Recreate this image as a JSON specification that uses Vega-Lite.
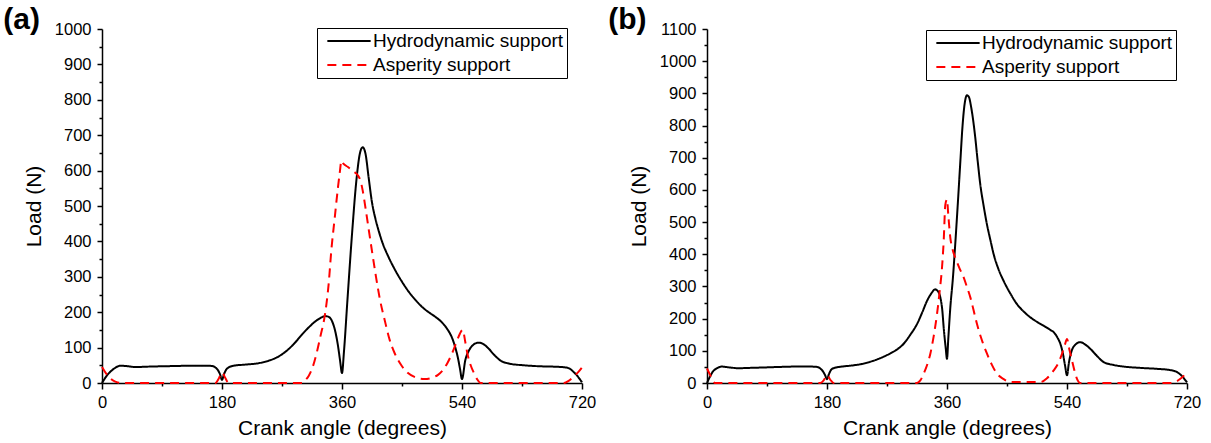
{
  "$schema": "https://vega.github.io/schema/vega-lite/v6.json",
  "autosize": {"type": "pad"},
  "padding": {"left": 3, "top": 5, "right": 5, "bottom": 0},
  "background": "white",
  "config": {
    "font": "Liberation Sans",
    "view": {"stroke": null},
    "axis": {
      "domainColor": "black", "domainWidth": 1.5, "tickColor": "black", "tickWidth": 1.5,
      "labelColor": "black", "titleColor": "black", "labelFont": "Liberation Sans", "titleFont": "Liberation Sans",
      "labelFontSize": 16.5, "titleFontSize": 21, "titleFontWeight": "normal", "grid": false,
      "labelOverlap": false, "labelFlush": false
    },
    "legend": {
      "labelFont": "Liberation Sans", "labelFontSize": 19, "labelColor": "black",
      "strokeColor": "black", "padding": 3, "rowPadding": 4, "symbolStrokeWidth": 2,
      "symbolSize": 300, "symbolType": "M-2.5,0H2.5", "labelOffset": 14, "symbolOffset": 19, "labelLimit": 400
    },
    "title": {"font": "Liberation Sans", "color": "black"}
  },
  "datasets": {
    "a": [
      {"angle": 0, "load": 0, "series": "Hydrodynamic support"},
      {"angle": 5, "load": 15, "series": "Hydrodynamic support"},
      {"angle": 10, "load": 27, "series": "Hydrodynamic support"},
      {"angle": 15, "load": 36, "series": "Hydrodynamic support"},
      {"angle": 20, "load": 43, "series": "Hydrodynamic support"},
      {"angle": 28, "load": 49, "series": "Hydrodynamic support"},
      {"angle": 40, "load": 47, "series": "Hydrodynamic support"},
      {"angle": 50, "load": 45, "series": "Hydrodynamic support"},
      {"angle": 65, "load": 46, "series": "Hydrodynamic support"},
      {"angle": 85, "load": 47, "series": "Hydrodynamic support"},
      {"angle": 110, "load": 48, "series": "Hydrodynamic support"},
      {"angle": 135, "load": 49, "series": "Hydrodynamic support"},
      {"angle": 155, "load": 49, "series": "Hydrodynamic support"},
      {"angle": 165, "load": 48, "series": "Hydrodynamic support"},
      {"angle": 170, "load": 44, "series": "Hydrodynamic support"},
      {"angle": 174, "load": 36, "series": "Hydrodynamic support"},
      {"angle": 177, "load": 25, "series": "Hydrodynamic support"},
      {"angle": 180, "load": 9, "series": "Hydrodynamic support"},
      {"angle": 183, "load": 25, "series": "Hydrodynamic support"},
      {"angle": 186, "load": 37, "series": "Hydrodynamic support"},
      {"angle": 190, "load": 44, "series": "Hydrodynamic support"},
      {"angle": 198, "load": 49, "series": "Hydrodynamic support"},
      {"angle": 215, "load": 52, "series": "Hydrodynamic support"},
      {"angle": 235, "load": 56, "series": "Hydrodynamic support"},
      {"angle": 250, "load": 63, "series": "Hydrodynamic support"},
      {"angle": 262, "load": 72, "series": "Hydrodynamic support"},
      {"angle": 270, "load": 81, "series": "Hydrodynamic support"},
      {"angle": 280, "load": 96, "series": "Hydrodynamic support"},
      {"angle": 290, "load": 115, "series": "Hydrodynamic support"},
      {"angle": 300, "load": 137, "series": "Hydrodynamic support"},
      {"angle": 310, "load": 157, "series": "Hydrodynamic support"},
      {"angle": 320, "load": 174, "series": "Hydrodynamic support"},
      {"angle": 328, "load": 184, "series": "Hydrodynamic support"},
      {"angle": 335, "load": 189, "series": "Hydrodynamic support"},
      {"angle": 340, "load": 187, "series": "Hydrodynamic support"},
      {"angle": 345, "load": 175, "series": "Hydrodynamic support"},
      {"angle": 350, "load": 145, "series": "Hydrodynamic support"},
      {"angle": 354, "load": 105, "series": "Hydrodynamic support"},
      {"angle": 357, "load": 65, "series": "Hydrodynamic support"},
      {"angle": 360, "load": 28, "series": "Hydrodynamic support"},
      {"angle": 363, "load": 90, "series": "Hydrodynamic support"},
      {"angle": 368, "load": 230, "series": "Hydrodynamic support"},
      {"angle": 375, "load": 420, "series": "Hydrodynamic support"},
      {"angle": 382, "load": 580, "series": "Hydrodynamic support"},
      {"angle": 387, "load": 650, "series": "Hydrodynamic support"},
      {"angle": 391, "load": 666, "series": "Hydrodynamic support"},
      {"angle": 395, "load": 650, "series": "Hydrodynamic support"},
      {"angle": 400, "load": 580, "series": "Hydrodynamic support"},
      {"angle": 405, "load": 510, "series": "Hydrodynamic support"},
      {"angle": 410, "load": 465, "series": "Hydrodynamic support"},
      {"angle": 415, "load": 430, "series": "Hydrodynamic support"},
      {"angle": 420, "load": 400, "series": "Hydrodynamic support"},
      {"angle": 430, "load": 355, "series": "Hydrodynamic support"},
      {"angle": 440, "load": 318, "series": "Hydrodynamic support"},
      {"angle": 450, "load": 286, "series": "Hydrodynamic support"},
      {"angle": 460, "load": 258, "series": "Hydrodynamic support"},
      {"angle": 470, "load": 235, "series": "Hydrodynamic support"},
      {"angle": 480, "load": 215, "series": "Hydrodynamic support"},
      {"angle": 490, "load": 200, "series": "Hydrodynamic support"},
      {"angle": 500, "load": 187, "series": "Hydrodynamic support"},
      {"angle": 510, "load": 171, "series": "Hydrodynamic support"},
      {"angle": 518, "load": 152, "series": "Hydrodynamic support"},
      {"angle": 525, "load": 128, "series": "Hydrodynamic support"},
      {"angle": 530, "load": 100, "series": "Hydrodynamic support"},
      {"angle": 534, "load": 70, "series": "Hydrodynamic support"},
      {"angle": 537, "load": 40, "series": "Hydrodynamic support"},
      {"angle": 540, "load": 11, "series": "Hydrodynamic support"},
      {"angle": 545, "load": 65, "series": "Hydrodynamic support"},
      {"angle": 550, "load": 90, "series": "Hydrodynamic support"},
      {"angle": 557, "load": 108, "series": "Hydrodynamic support"},
      {"angle": 565, "load": 114, "series": "Hydrodynamic support"},
      {"angle": 572, "load": 110, "series": "Hydrodynamic support"},
      {"angle": 580, "load": 97, "series": "Hydrodynamic support"},
      {"angle": 588, "load": 80, "series": "Hydrodynamic support"},
      {"angle": 598, "load": 63, "series": "Hydrodynamic support"},
      {"angle": 610, "load": 55, "series": "Hydrodynamic support"},
      {"angle": 633, "load": 50, "series": "Hydrodynamic support"},
      {"angle": 660, "load": 47, "series": "Hydrodynamic support"},
      {"angle": 680, "load": 46, "series": "Hydrodynamic support"},
      {"angle": 695, "load": 44, "series": "Hydrodynamic support"},
      {"angle": 702, "load": 40, "series": "Hydrodynamic support"},
      {"angle": 708, "load": 30, "series": "Hydrodynamic support"},
      {"angle": 713, "load": 20, "series": "Hydrodynamic support"},
      {"angle": 717, "load": 10, "series": "Hydrodynamic support"},
      {"angle": 720, "load": 2, "series": "Hydrodynamic support"},
      {"angle": 0, "load": 45, "series": "Asperity support"},
      {"angle": 5, "load": 30, "series": "Asperity support"},
      {"angle": 10, "load": 18, "series": "Asperity support"},
      {"angle": 15, "load": 9, "series": "Asperity support"},
      {"angle": 20, "load": 4, "series": "Asperity support"},
      {"angle": 28, "load": 0, "series": "Asperity support"},
      {"angle": 100, "load": 0, "series": "Asperity support"},
      {"angle": 170, "load": 0, "series": "Asperity support"},
      {"angle": 175, "load": 12, "series": "Asperity support"},
      {"angle": 180, "load": 30, "series": "Asperity support"},
      {"angle": 185, "load": 14, "series": "Asperity support"},
      {"angle": 190, "load": 0, "series": "Asperity support"},
      {"angle": 300, "load": 0, "series": "Asperity support"},
      {"angle": 305, "load": 8, "series": "Asperity support"},
      {"angle": 310, "load": 20, "series": "Asperity support"},
      {"angle": 316, "load": 45, "series": "Asperity support"},
      {"angle": 322, "load": 85, "series": "Asperity support"},
      {"angle": 328, "load": 135, "series": "Asperity support"},
      {"angle": 334, "load": 188, "series": "Asperity support"},
      {"angle": 340, "load": 280, "series": "Asperity support"},
      {"angle": 344, "load": 375, "series": "Asperity support"},
      {"angle": 349, "load": 465, "series": "Asperity support"},
      {"angle": 354, "load": 553, "series": "Asperity support"},
      {"angle": 357, "load": 600, "series": "Asperity support"},
      {"angle": 359, "load": 628, "series": "Asperity support"},
      {"angle": 362, "load": 620, "series": "Asperity support"},
      {"angle": 369, "load": 610, "series": "Asperity support"},
      {"angle": 377, "load": 598, "series": "Asperity support"},
      {"angle": 384, "load": 586, "series": "Asperity support"},
      {"angle": 388, "load": 570, "series": "Asperity support"},
      {"angle": 391, "load": 544, "series": "Asperity support"},
      {"angle": 396, "load": 485, "series": "Asperity support"},
      {"angle": 401, "load": 422, "series": "Asperity support"},
      {"angle": 406, "load": 360, "series": "Asperity support"},
      {"angle": 411, "load": 300, "series": "Asperity support"},
      {"angle": 417, "load": 235, "series": "Asperity support"},
      {"angle": 424, "load": 178, "series": "Asperity support"},
      {"angle": 431, "load": 125, "series": "Asperity support"},
      {"angle": 439, "load": 84, "series": "Asperity support"},
      {"angle": 449, "load": 50, "series": "Asperity support"},
      {"angle": 459, "load": 28, "series": "Asperity support"},
      {"angle": 470, "load": 16, "series": "Asperity support"},
      {"angle": 484, "load": 11, "series": "Asperity support"},
      {"angle": 495, "load": 15, "series": "Asperity support"},
      {"angle": 504, "load": 23, "series": "Asperity support"},
      {"angle": 512, "load": 38, "series": "Asperity support"},
      {"angle": 518, "load": 56, "series": "Asperity support"},
      {"angle": 526, "load": 88, "series": "Asperity support"},
      {"angle": 533, "load": 122, "series": "Asperity support"},
      {"angle": 537, "load": 140, "series": "Asperity support"},
      {"angle": 541, "load": 150, "series": "Asperity support"},
      {"angle": 545, "load": 115, "series": "Asperity support"},
      {"angle": 548, "load": 84, "series": "Asperity support"},
      {"angle": 553, "load": 50, "series": "Asperity support"},
      {"angle": 558, "load": 28, "series": "Asperity support"},
      {"angle": 563, "load": 10, "series": "Asperity support"},
      {"angle": 568, "load": 0, "series": "Asperity support"},
      {"angle": 693, "load": 0, "series": "Asperity support"},
      {"angle": 700, "load": 6, "series": "Asperity support"},
      {"angle": 708, "load": 19, "series": "Asperity support"},
      {"angle": 714, "load": 30, "series": "Asperity support"},
      {"angle": 720, "load": 44, "series": "Asperity support"}
    ],
    "b": [
      {"angle": 0, "load": 0, "series": "Hydrodynamic support"},
      {"angle": 4, "load": 18, "series": "Hydrodynamic support"},
      {"angle": 9, "load": 36, "series": "Hydrodynamic support"},
      {"angle": 15, "load": 46, "series": "Hydrodynamic support"},
      {"angle": 22, "load": 51, "series": "Hydrodynamic support"},
      {"angle": 35, "load": 48, "series": "Hydrodynamic support"},
      {"angle": 47, "load": 46, "series": "Hydrodynamic support"},
      {"angle": 65, "load": 47, "series": "Hydrodynamic support"},
      {"angle": 82, "load": 48, "series": "Hydrodynamic support"},
      {"angle": 110, "load": 50, "series": "Hydrodynamic support"},
      {"angle": 132, "load": 51, "series": "Hydrodynamic support"},
      {"angle": 155, "load": 51, "series": "Hydrodynamic support"},
      {"angle": 165, "load": 50, "series": "Hydrodynamic support"},
      {"angle": 170, "load": 45, "series": "Hydrodynamic support"},
      {"angle": 174, "load": 36, "series": "Hydrodynamic support"},
      {"angle": 177, "load": 25, "series": "Hydrodynamic support"},
      {"angle": 180, "load": 12, "series": "Hydrodynamic support"},
      {"angle": 183, "load": 28, "series": "Hydrodynamic support"},
      {"angle": 187, "load": 43, "series": "Hydrodynamic support"},
      {"angle": 193, "load": 48, "series": "Hydrodynamic support"},
      {"angle": 202, "load": 51, "series": "Hydrodynamic support"},
      {"angle": 220, "load": 55, "series": "Hydrodynamic support"},
      {"angle": 232, "load": 59, "series": "Hydrodynamic support"},
      {"angle": 245, "load": 66, "series": "Hydrodynamic support"},
      {"angle": 262, "load": 79, "series": "Hydrodynamic support"},
      {"angle": 275, "load": 92, "series": "Hydrodynamic support"},
      {"angle": 285, "load": 104, "series": "Hydrodynamic support"},
      {"angle": 295, "load": 122, "series": "Hydrodynamic support"},
      {"angle": 305, "load": 150, "series": "Hydrodynamic support"},
      {"angle": 315, "load": 183, "series": "Hydrodynamic support"},
      {"angle": 323, "load": 220, "series": "Hydrodynamic support"},
      {"angle": 330, "load": 255, "series": "Hydrodynamic support"},
      {"angle": 337, "load": 280, "series": "Hydrodynamic support"},
      {"angle": 342, "load": 291, "series": "Hydrodynamic support"},
      {"angle": 346, "load": 286, "series": "Hydrodynamic support"},
      {"angle": 350, "load": 266, "series": "Hydrodynamic support"},
      {"angle": 353, "load": 225, "series": "Hydrodynamic support"},
      {"angle": 355, "load": 173, "series": "Hydrodynamic support"},
      {"angle": 358, "load": 110, "series": "Hydrodynamic support"},
      {"angle": 360, "load": 75, "series": "Hydrodynamic support"},
      {"angle": 362, "load": 140, "series": "Hydrodynamic support"},
      {"angle": 365, "load": 235, "series": "Hydrodynamic support"},
      {"angle": 369, "load": 330, "series": "Hydrodynamic support"},
      {"angle": 372, "load": 420, "series": "Hydrodynamic support"},
      {"angle": 376, "load": 550, "series": "Hydrodynamic support"},
      {"angle": 380, "load": 688, "series": "Hydrodynamic support"},
      {"angle": 383, "load": 790, "series": "Hydrodynamic support"},
      {"angle": 386, "load": 860, "series": "Hydrodynamic support"},
      {"angle": 390, "load": 894, "series": "Hydrodynamic support"},
      {"angle": 393, "load": 888, "series": "Hydrodynamic support"},
      {"angle": 396, "load": 860, "series": "Hydrodynamic support"},
      {"angle": 399, "load": 820, "series": "Hydrodynamic support"},
      {"angle": 402, "load": 770, "series": "Hydrodynamic support"},
      {"angle": 406, "load": 690, "series": "Hydrodynamic support"},
      {"angle": 410, "load": 616, "series": "Hydrodynamic support"},
      {"angle": 415, "load": 550, "series": "Hydrodynamic support"},
      {"angle": 420, "load": 492, "series": "Hydrodynamic support"},
      {"angle": 425, "load": 445, "series": "Hydrodynamic support"},
      {"angle": 430, "load": 400, "series": "Hydrodynamic support"},
      {"angle": 437, "load": 355, "series": "Hydrodynamic support"},
      {"angle": 445, "load": 317, "series": "Hydrodynamic support"},
      {"angle": 455, "load": 278, "series": "Hydrodynamic support"},
      {"angle": 465, "load": 245, "series": "Hydrodynamic support"},
      {"angle": 475, "load": 222, "series": "Hydrodynamic support"},
      {"angle": 485, "load": 204, "series": "Hydrodynamic support"},
      {"angle": 495, "load": 190, "series": "Hydrodynamic support"},
      {"angle": 505, "load": 178, "series": "Hydrodynamic support"},
      {"angle": 515, "load": 165, "series": "Hydrodynamic support"},
      {"angle": 520, "load": 158, "series": "Hydrodynamic support"},
      {"angle": 526, "load": 140, "series": "Hydrodynamic support"},
      {"angle": 530, "load": 122, "series": "Hydrodynamic support"},
      {"angle": 534, "load": 90, "series": "Hydrodynamic support"},
      {"angle": 537, "load": 55, "series": "Hydrodynamic support"},
      {"angle": 540, "load": 24, "series": "Hydrodynamic support"},
      {"angle": 543, "load": 65, "series": "Hydrodynamic support"},
      {"angle": 547, "load": 100, "series": "Hydrodynamic support"},
      {"angle": 552, "load": 118, "series": "Hydrodynamic support"},
      {"angle": 560, "load": 127, "series": "Hydrodynamic support"},
      {"angle": 567, "load": 120, "series": "Hydrodynamic support"},
      {"angle": 575, "load": 106, "series": "Hydrodynamic support"},
      {"angle": 585, "load": 84, "series": "Hydrodynamic support"},
      {"angle": 595, "load": 65, "series": "Hydrodynamic support"},
      {"angle": 610, "load": 56, "series": "Hydrodynamic support"},
      {"angle": 625, "load": 51, "series": "Hydrodynamic support"},
      {"angle": 650, "load": 47, "series": "Hydrodynamic support"},
      {"angle": 675, "load": 44, "series": "Hydrodynamic support"},
      {"angle": 695, "load": 40, "series": "Hydrodynamic support"},
      {"angle": 703, "load": 36, "series": "Hydrodynamic support"},
      {"angle": 709, "load": 28, "series": "Hydrodynamic support"},
      {"angle": 714, "load": 18, "series": "Hydrodynamic support"},
      {"angle": 717, "load": 10, "series": "Hydrodynamic support"},
      {"angle": 720, "load": 2, "series": "Hydrodynamic support"},
      {"angle": 0, "load": 45, "series": "Asperity support"},
      {"angle": 4, "load": 28, "series": "Asperity support"},
      {"angle": 8, "load": 12, "series": "Asperity support"},
      {"angle": 12, "load": 0, "series": "Asperity support"},
      {"angle": 170, "load": 0, "series": "Asperity support"},
      {"angle": 175, "load": 8, "series": "Asperity support"},
      {"angle": 180, "load": 25, "series": "Asperity support"},
      {"angle": 185, "load": 10, "series": "Asperity support"},
      {"angle": 190, "load": 0, "series": "Asperity support"},
      {"angle": 315, "load": 0, "series": "Asperity support"},
      {"angle": 320, "load": 8, "series": "Asperity support"},
      {"angle": 325, "load": 29, "series": "Asperity support"},
      {"angle": 330, "load": 55, "series": "Asperity support"},
      {"angle": 335, "load": 91, "series": "Asperity support"},
      {"angle": 340, "load": 145, "series": "Asperity support"},
      {"angle": 345, "load": 214, "series": "Asperity support"},
      {"angle": 349, "load": 285, "series": "Asperity support"},
      {"angle": 352.5, "load": 358, "series": "Asperity support"},
      {"angle": 355, "load": 440, "series": "Asperity support"},
      {"angle": 357.5, "load": 554, "series": "Asperity support"},
      {"angle": 360, "load": 570, "series": "Asperity support"},
      {"angle": 362, "load": 520, "series": "Asperity support"},
      {"angle": 365, "load": 451, "series": "Asperity support"},
      {"angle": 368, "load": 418, "series": "Asperity support"},
      {"angle": 372.5, "load": 389, "series": "Asperity support"},
      {"angle": 378, "load": 360, "series": "Asperity support"},
      {"angle": 385, "load": 328, "series": "Asperity support"},
      {"angle": 390, "load": 298, "series": "Asperity support"},
      {"angle": 395, "load": 266, "series": "Asperity support"},
      {"angle": 400, "load": 225, "series": "Asperity support"},
      {"angle": 405, "load": 183, "series": "Asperity support"},
      {"angle": 412, "load": 135, "series": "Asperity support"},
      {"angle": 420, "load": 91, "series": "Asperity support"},
      {"angle": 427, "load": 58, "series": "Asperity support"},
      {"angle": 435, "load": 29, "series": "Asperity support"},
      {"angle": 445, "load": 12, "series": "Asperity support"},
      {"angle": 455, "load": 3, "series": "Asperity support"},
      {"angle": 500, "load": 3, "series": "Asperity support"},
      {"angle": 510, "load": 15, "series": "Asperity support"},
      {"angle": 520, "load": 39, "series": "Asperity support"},
      {"angle": 527, "load": 62, "series": "Asperity support"},
      {"angle": 532.5, "load": 91, "series": "Asperity support"},
      {"angle": 537, "load": 120, "series": "Asperity support"},
      {"angle": 540, "load": 137, "series": "Asperity support"},
      {"angle": 544, "load": 100, "series": "Asperity support"},
      {"angle": 547.5, "load": 70, "series": "Asperity support"},
      {"angle": 551, "load": 40, "series": "Asperity support"},
      {"angle": 555, "load": 13, "series": "Asperity support"},
      {"angle": 560, "load": 0, "series": "Asperity support"},
      {"angle": 695, "load": 0, "series": "Asperity support"},
      {"angle": 703, "load": 4, "series": "Asperity support"},
      {"angle": 710, "load": 13, "series": "Asperity support"},
      {"angle": 715, "load": 22, "series": "Asperity support"},
      {"angle": 720, "load": 34, "series": "Asperity support"}
    ]
  },
  "spacing": 12,
  "resolve": {
    "scale": {"x": "independent", "y": "independent", "color": "independent", "strokeDash": "independent"},
    "legend": {"color": "independent", "strokeDash": "independent"}
  },
  "hconcat": [
    {
      "width": 480,
      "height": 354,
      "title": {"text": "(a)", "anchor": "start", "frame": "bounds", "fontSize": 30, "fontWeight": "bold", "offset": -14, "dx": -20},
      "data": {"name": "a"},
      "mark": {"type": "line", "strokeWidth": 2, "interpolate": "monotone"},
      "encoding": {
        "x": {
          "field": "angle", "type": "quantitative",
          "scale": {"domain": [0, 720], "nice": false, "zero": false},
          "axis": {
            "title": "Crank angle (degrees)",
            "values": [0, 90, 180, 270, 360, 450, 540, 630, 720],
            "format": "d",
            "labelExpr": "datum.value % 180 == 0 ? datum.label : ''",
            "tickSize": {"condition": {"test": "datum.value % 180 == 0", "value": 6}, "value": 3},
            "labelPadding": 5, "titlePadding": 7
          }
        },
        "y": {
          "field": "load", "type": "quantitative",
          "scale": {"domain": [0, 1000], "nice": false},
          "axis": {
            "title": "Load (N)",
            "values": [0, 50, 100, 150, 200, 250, 300, 350, 400, 450, 500, 550, 600, 650, 700, 750, 800, 850, 900, 950, 1000],
            "format": "d",
            "labelExpr": "datum.value % 100 == 0 ? datum.label : ''",
            "tickSize": {"condition": {"test": "datum.value % 100 == 0", "value": 5}, "value": 3},
            "labelPadding": 6, "titlePadding": 10
          }
        },
        "color": {
          "field": "series", "type": "nominal",
          "scale": {"domain": ["Hydrodynamic support", "Asperity support"], "range": ["#000000", "#ff0000"]},
          "legend": {"title": null, "orient": "none", "legendX": 215, "legendY": -1}
        },
        "strokeDash": {
          "field": "series", "type": "nominal",
          "scale": {"domain": ["Hydrodynamic support", "Asperity support"], "range": [[1, 0], [9, 6]]},
          "legend": {"title": null, "orient": "none", "legendX": 215, "legendY": -1}
        }
      }
    },
    {
      "width": 480,
      "height": 354,
      "title": {"text": "(b)", "anchor": "start", "frame": "bounds", "fontSize": 30, "fontWeight": "bold", "offset": -14, "dx": -20},
      "data": {"name": "b"},
      "mark": {"type": "line", "strokeWidth": 2, "interpolate": "monotone"},
      "encoding": {
        "x": {
          "field": "angle", "type": "quantitative",
          "scale": {"domain": [0, 720], "nice": false, "zero": false},
          "axis": {
            "title": "Crank angle (degrees)",
            "values": [0, 90, 180, 270, 360, 450, 540, 630, 720],
            "format": "d",
            "labelExpr": "datum.value % 180 == 0 ? datum.label : ''",
            "tickSize": {"condition": {"test": "datum.value % 180 == 0", "value": 6}, "value": 3},
            "labelPadding": 5, "titlePadding": 7
          }
        },
        "y": {
          "field": "load", "type": "quantitative",
          "scale": {"domain": [0, 1100], "nice": false},
          "axis": {
            "title": "Load (N)",
            "values": [0, 50, 100, 150, 200, 250, 300, 350, 400, 450, 500, 550, 600, 650, 700, 750, 800, 850, 900, 950, 1000, 1050, 1100],
            "format": "d",
            "labelExpr": "datum.value % 100 == 0 ? datum.label : ''",
            "tickSize": {"condition": {"test": "datum.value % 100 == 0", "value": 5}, "value": 3},
            "labelPadding": 6, "titlePadding": 10
          }
        },
        "color": {
          "field": "series", "type": "nominal",
          "scale": {"domain": ["Hydrodynamic support", "Asperity support"], "range": ["#000000", "#ff0000"]},
          "legend": {"title": null, "orient": "none", "legendX": 219, "legendY": 1}
        },
        "strokeDash": {
          "field": "series", "type": "nominal",
          "scale": {"domain": ["Hydrodynamic support", "Asperity support"], "range": [[1, 0], [9, 6]]},
          "legend": {"title": null, "orient": "none", "legendX": 219, "legendY": 1}
        }
      }
    }
  ]
}
